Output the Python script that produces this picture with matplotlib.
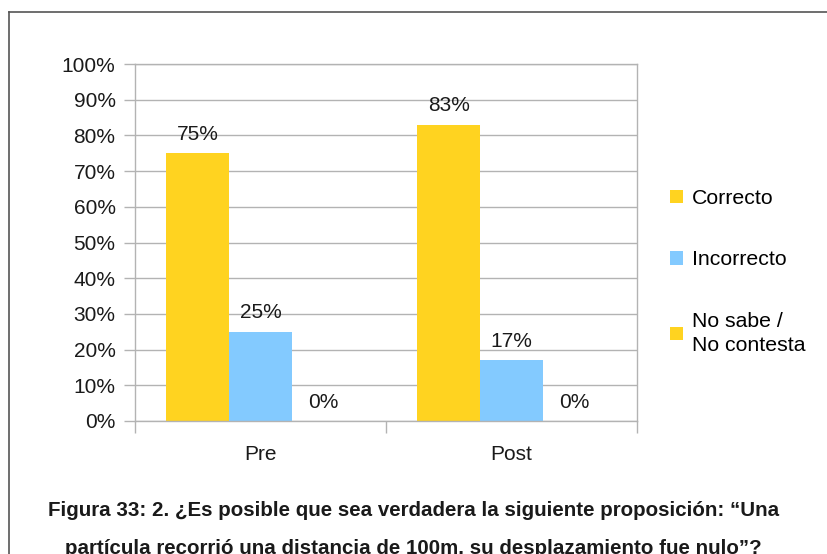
import numpy as np
import matplotlib
matplotlib.use("Agg")
import matplotlib.pyplot as plt
from matplotlib.patches import Patch
from matplotlib.lines import Line2D

# Datos del gráfico
categorias = ["Pre", "Post"]
series = ["Correcto", "Incorrecto", "No sabe /\nNo contesta"]
correcto = [75, 83]
incorrecto = [25, 17]
no_sabe = [0, 0]
colores = ["#FFD320", "#83CAFF", "#FFD320"]
ticks_y = [0, 10, 20, 30, 40, 50, 60, 70, 80, 90, 100]
titulo = ["Figura 33: 2. ¿Es posible que sea verdadera la siguiente proposición: “Una",
          "partícula recorrió una distancia de 100m, su desplazamiento fue nulo”?"]

plt.rcParams['font.family'] = ['Liberation Sans', 'DejaVu Sans']

fig = plt.figure(figsize=(8.27, 5.54), dpi=100)
ax = fig.add_axes([135 / 827, 1 - 421 / 554, (637 - 135) / 827, (421 - 64) / 554])

# Barras agrupadas
x = np.arange(len(categorias))
ancho = 0.25
valores = [correcto, incorrecto, no_sabe]
for i, (vals, color) in enumerate(zip(valores, colores)):
    pos = x + (i - 1) * ancho
    ax.bar(pos, vals, width=ancho, color=color, zorder=2)
    for xp, v in zip(pos, vals):
        ax.annotate(f"{v}%", (xp, v), xytext=(0, 13.5), textcoords="offset points",
                    ha="center", va="center", fontsize=15, color="#1a1a1a")

ax.set_xlim(-0.5, len(categorias) - 0.5)
ax.set_ylim(0, 100)
ax.set_yticks(ticks_y)
ax.set_yticklabels([f"{t}%" for t in ticks_y], fontsize=15, color="#1a1a1a")
ax.set_xticks(x)
ax.set_xticklabels(categorias, fontsize=15, color="#1a1a1a")
ax.set_xticks(np.arange(-0.5, len(categorias)), minor=True)
ax.tick_params(axis="x", which="major", length=0, pad=17)
ax.tick_params(axis="x", which="minor", length=8.5, color="#b3b3b3", width=1)
ax.tick_params(axis="y", length=8, color="#b3b3b3", width=1, pad=6)
ax.grid(axis="y", color="#b3b3b3", linewidth=1, zorder=0)
ax.set_axisbelow(True)
for s in ax.spines.values():
    s.set_color("#b3b3b3")
    s.set_linewidth(1)

# Leyenda
handles = [Patch(facecolor=c, edgecolor="none") for c in colores]
leg = fig.legend(handles, series, loc="center left", bbox_to_anchor=(670 / 827, 1 - 272 / 554),
                 frameon=False, fontsize=15.3, handlelength=0.6, handleheight=0.6,
                 handletextpad=0.45, labelspacing=2.0, borderpad=0, borderaxespad=0)
for t in leg.get_texts():
    t.set_linespacing(1.35)

# Título al pie
for linea, yp in zip(titulo, [511, 549]):
    fig.text(0.5, 1 - yp / 554, linea, ha="center", va="center", fontsize=14.8,
             fontweight="bold", color="#1a1a1a")

# Marco del gráfico
fig.add_artist(Line2D([9 / 827, 1.0], [1 - 12 / 554, 1 - 12 / 554], color="#555555", linewidth=1.2))
fig.add_artist(Line2D([9 / 827, 9 / 827], [1 - 12 / 554, 0.0], color="#555555", linewidth=1.2))

fig.savefig("out.png", dpi=100)
